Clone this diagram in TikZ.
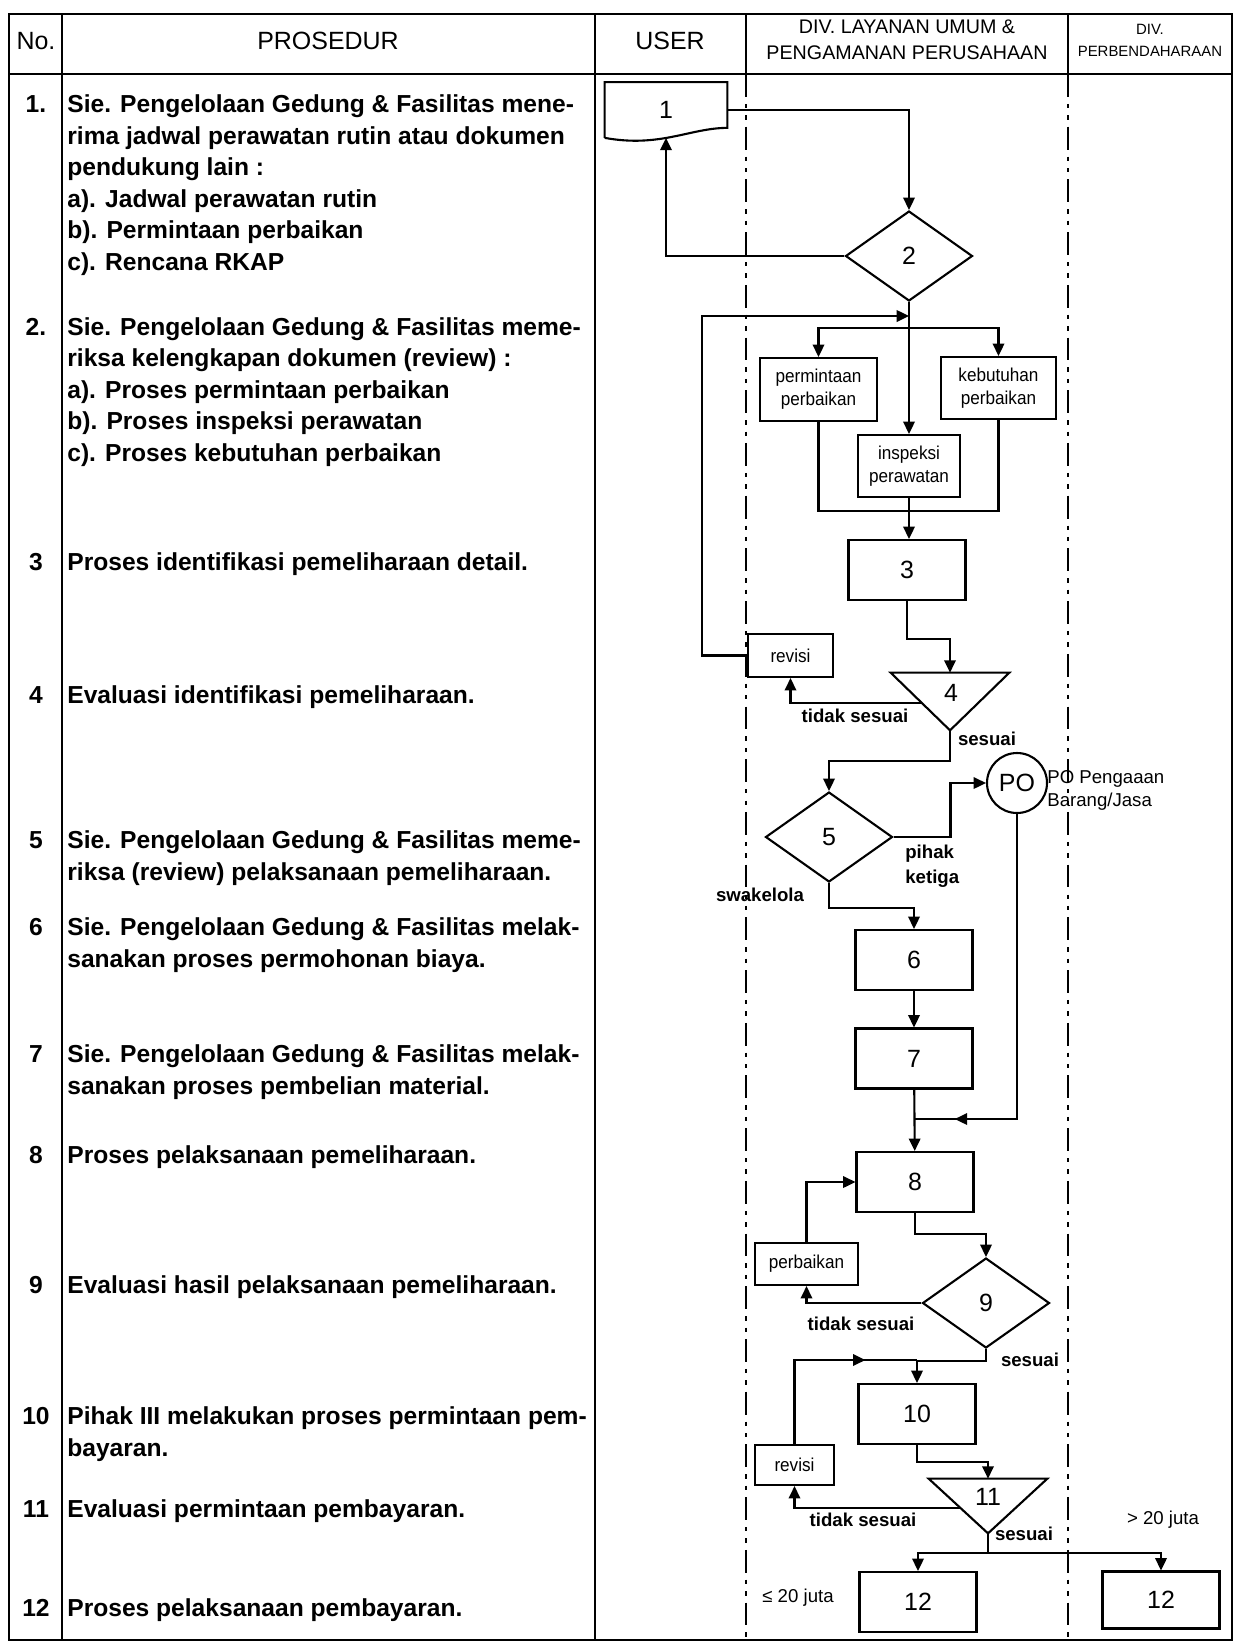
\documentclass[tikz,border=0pt]{standalone}
\usepackage{fontspec}
\setmainfont{Liberation Sans}
\newfontfamily\narrowfnt[FakeStretch=0.92]{Liberation Sans}
\usepackage{tikz}
\usetikzlibrary{arrows.meta}
\usetikzlibrary{shapes.geometric}
\usetikzlibrary{calc}
\usetikzlibrary{decorations.markings}
\usetikzlibrary{positioning}

\newcommand\rowfnt{\bfseries\fontsize{14}{17.9}\selectfont}
\newcommand\hdfnt{\fontsize{14.2}{16}\selectfont}
\newcommand\divfnt{\fontsize{11.2}{14.7}\selectfont}
\newcommand\perbfnt{\fontsize{8.5}{12.5}\selectfont}
\newcommand\stepfnt{\fontsize{14.2}{16}\selectfont}
\newcommand\boxfnt{\narrowfnt\fontsize{10.6}{13}\selectfont}
\newcommand\lblfnt{\bfseries\fontsize{10.6}{14.2}\selectfont}
\newcommand\pofnt{\fontsize{10.6}{13}\selectfont}

\begin{document}
\begin{tikzpicture}[x=0.02cm, y=-0.02cm]
        \tikzset{
            flow/.style={line width=1.2pt},
            arr/.style={flow, -{Triangle[length=7pt,width=6.5pt]}},
            midtip/.style={postaction={decorate, decoration={markings,
                mark=at position #1 with {\arrow{Triangle[length=7pt,width=6.5pt]}}}}},
            border/.style={line width=1.5pt},
            lane/.style={line width=1.2pt, dash pattern=on 13pt off 4pt on 2.5pt off 4pt on 2.5pt off 4pt},
            stepbox/.style={draw, flow, minimum width=2.34cm, minimum height=1.2cm, inner sep=0pt, font=\stepfnt},
            smallbox/.style={draw, flow, inner sep=0pt, align=center, font=\boxfnt},
            decision/.style={draw, flow, diamond, minimum width=2.54cm, minimum height=1.8cm, inner sep=0pt, font=\stepfnt},
            tribox/.style={inner sep=0pt},
            lbl/.style={inner sep=0pt, font=\lblfnt},
            rowtext/.style={inner sep=0pt, align=left, anchor=base west, font=\rowfnt},
            rownum/.style={inner sep=0pt, anchor=base, font=\rowfnt},
        }
        \useasboundingbox (0,0) rectangle (1241,1651);

        % table frame
        \draw[border] (9,14) rectangle (1232,1640);
        \draw[border] (9,74) -- (1232,74);
        \draw[border] (62,14) -- (62,1640);
        \draw[border] (595,14) -- (595,1640);
        \draw[border] (746,14) -- (746,74);
        \draw[border] (1068,14) -- (1068,74);
        \draw[lane] (746,74) -- (746,1640);
        \draw[lane] (1068,74) -- (1068,1640);

        \node[font=\hdfnt] (hno) at (36,41) {No.};
        \node[font=\hdfnt] (hpro) at (328,41) {PROSEDUR};
        \node[font=\hdfnt] (huser) at (670,41) {USER};
        \node[font=\divfnt, align=center] (hdiv) at (907,40) {DIV. LAYANAN UMUM \&\\PENGAMANAN PERUSAHAAN};
        \node[font=\perbfnt, align=center] (hperb) at (1150,40) {DIV.\\PERBENDAHARAAN};

        % procedure column (base of a row = its last line)
        \foreach \n/\y [count=\i] in {1./112, 2./335, 3/570, 4/703, 5/848, 6/935, 7/1062, 8/1163, 9/1293, 10/1424, 11/1517, 12/1616}
            \node[rownum] (num\i) at (36,\y) {\n};
        \node[rowtext] (row1) at (67,270) {Sie. Pengelolaan Gedung \& Fasilitas mene-\\rima jadwal perawatan rutin atau dokumen\\pendukung lain :\\a). Jadwal perawatan rutin\\b). Permintaan perbaikan\\c). Rencana RKAP};
        \node[rowtext] (row2) at (67,461) {Sie. Pengelolaan Gedung \& Fasilitas meme-\\riksa kelengkapan dokumen (review) :\\a). Proses permintaan perbaikan\\b). Proses inspeksi perawatan\\c). Proses kebutuhan perbaikan};
        \node[rowtext] (row3) at (67,570) {Proses identifikasi pemeliharaan detail.};
        \node[rowtext] (row4) at (67,703) {Evaluasi identifikasi pemeliharaan.};
        \node[rowtext] (row5) at (67,880) {Sie. Pengelolaan Gedung \& Fasilitas meme-\\riksa (review) pelaksanaan pemeliharaan.};
        \node[rowtext] (row6) at (67,967) {Sie. Pengelolaan Gedung \& Fasilitas melak-\\sanakan proses permohonan biaya.};
        \node[rowtext] (row7) at (67,1094) {Sie. Pengelolaan Gedung \& Fasilitas melak-\\sanakan proses pembelian material.};
        \node[rowtext] (row8) at (67,1163) {Proses pelaksanaan pemeliharaan.};
        \node[rowtext] (row9) at (67,1293) {Evaluasi hasil pelaksanaan pemeliharaan.};
        \node[rowtext] (row10) at (67,1456) {Pihak III melakukan proses permintaan pem-\\bayaran.};
        \node[rowtext] (row11) at (67,1517) {Evaluasi permintaan pembayaran.};
        \node[rowtext] (row12) at (67,1616) {Proses pelaksanaan pembayaran.};

        % flow nodes
        \node[inner sep=0pt, minimum width=2.44cm, minimum height=1.1cm, font=\stepfnt] (d1) at (666,110) {1};
        \draw[flow] (d1.south west) -- (d1.north west) -- (d1.north east) -- ([yshift=0.2cm]d1.south east)
            .. controls (690,128) and (660,148) .. (d1.south west);
        \node[decision] (dm2) at (909,256) {2};
        \node[smallbox, minimum width=2.34cm, minimum height=1.26cm] (perm) at (818.5,389.5) {permintaan\\perbaikan};
        \node[smallbox, minimum width=2.3cm, minimum height=1.24cm] (keb) at (998.5,388) {kebutuhan\\perbaikan};
        \node[smallbox, minimum width=2.04cm, minimum height=1.24cm] (insp) at (909,466) {inspeksi\\perawatan};
        \node[stepbox] (c3) at (907,570) {3};
        \node[smallbox, minimum width=1.7cm, minimum height=0.86cm] (rev1) at (790.5,655.5) {revisi};
        \node[tribox, minimum width=2.36cm, minimum height=1.14cm] (t4) at (950,701.5) {};
        \draw[flow] (t4.north west) -- (t4.north east) -- (t4.south) -- cycle;
        \node[font=\stepfnt] (n4) at (951,693) {4};
        \node[decision] (dm5) at (829,837) {5};
        \node[draw, flow, circle, minimum size=1.2cm, inner sep=0pt, font=\stepfnt] (po) at (1017,783) {PO};
        \node[stepbox] (c6) at (914,960) {6};
        \node[stepbox] (c7) at (914,1058.5) {7};
        \node[stepbox] (c8) at (915,1182) {8};
        \node[smallbox, minimum width=2.06cm, minimum height=0.84cm] (perb) at (806.5,1264) {perbaikan};
        \node[decision] (dm9) at (986,1303) {9};
        \node[stepbox] (c10) at (917,1414) {10};
        \node[smallbox, minimum width=1.58cm, minimum height=0.8cm] (rev2) at (794.5,1465) {revisi};
        \node[tribox, minimum width=2.36cm, minimum height=1.08cm] (t11) at (988,1506) {};
        \draw[flow] (t11.north west) -- (t11.north east) -- (t11.south) -- cycle;
        \node[font=\stepfnt] (n11) at (988,1497) {11};
        \node[stepbox] (c12a) at (918,1602) {12};
        \node[stepbox, minimum height=1.14cm] (c12b) at (1161,1600) {12};

        % connectors
        \coordinate (j2) at (909,316);
        \coordinate (br) at (909,328);
        \coordinate (j8) at (914,1119);
        \coordinate (j10) at (917,1360);
        \draw[arr] (d1.east) -| (dm2.north);
        \draw[arr] (dm2.west) -| (d1.south);
        \draw[arr] (dm2.south) -- (insp.north);
        \draw[arr] (br) -| (perm.north);
        \draw[arr] (br) -| (keb.north);
        \draw[arr] (rev1.west) -- ++(-45,0) |- (j2);
        \draw[flow] (perm.south) -- ++(0,89) -| (keb.south);
        \draw[arr] (insp.south) -- (insp.south |- c3.north);
        \draw[arr] (c3.south) -- ++(0,38) -| (t4.north);
        \draw[arr] ($(t4.north west)!0.53!(t4.south)$) -| (rev1.south);
        \draw[arr] (t4.south) -- ++(0,31) -| (dm5.north);
        \draw[arr] (dm5.east) -- ++(57,0) |- (po.west);
        \draw[arr] (dm5.south) -- ++(0,25) -| (c6.north);
        \draw[arr] (c6) -- (c7);
        \draw[arr] (c7) -- (c8);
        \draw[flow, midtip=0.9] (po.south) |- (j8);
        \draw[arr] (c8.south) -- ++(0,21) -| (dm9.north);
        \draw[arr] (dm9.west) -| (perb.south);
        \draw[arr] (perb.north) |- (c8.west);
        \draw[arr] (dm9.south) -- ++(0,12) -| (c10.north);
        \draw[flow, midtip=0.75] (rev2.north) |- (j10);
        \draw[arr] (c10.south) -- ++(0,17) -| (t11.north);
        \draw[arr] ($(t11.north west)!0.54!(t11.south)$) -| (rev2.south);
        \draw[flow] (t11.south) -- ++(0,20) coordinate (j12);
        \draw[arr] (j12) -| (c12a.north);
        \draw[arr] (j12) -| (c12b.north);

        % branch labels
        \node[lbl] (ts1) at (855,716) {tidak sesuai};
        \node[lbl] (s1) at (987,739) {sesuai};
        \node[lbl, align=left, anchor=west] (pk) at (905,866) {pihak\\ketiga};
        \node[lbl] (sw) at (760,895) {swakelola};
        \node[font=\pofnt, align=left, anchor=west, inner sep=0pt] (pol) at (1047,790) {PO Pengaaan\\Barang/Jasa};
        \node[lbl] (ts2) at (861,1324) {tidak sesuai};
        \node[lbl] (s2) at (1030,1360) {sesuai};
        \node[lbl] (ts3) at (863,1520) {tidak sesuai};
        \node[lbl] (s3) at (1024,1534) {sesuai};
        \node[font=\pofnt] (gt) at (1163,1520) {> 20 juta};
        \node[font=\pofnt] (le) at (798,1598) {≤ 20 juta};
\end{tikzpicture}
\end{document}
